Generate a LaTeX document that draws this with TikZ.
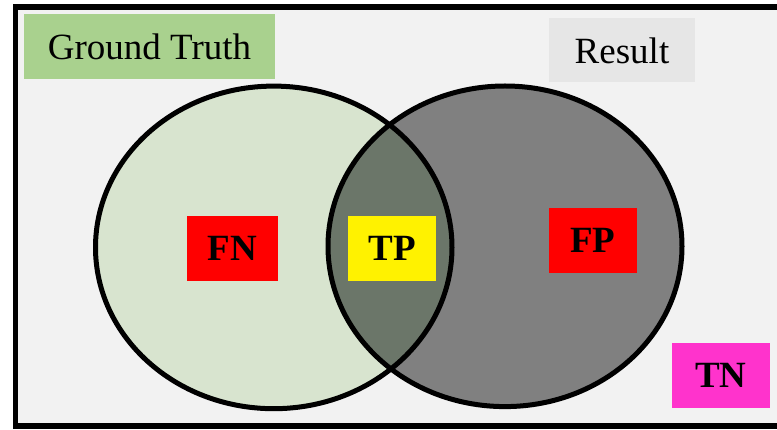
\documentclass[tikz,border=0pt]{standalone}
\usepackage{fontspec}
\setmainfont{Liberation Serif}
\definecolor{bgc}{RGB}{242,242,242}
\definecolor{gtfill}{RGB}{169,209,142}
\definecolor{resfill}{RGB}{230,230,230}
\definecolor{leftfill}{RGB}{216,228,207}
\definecolor{rightfill}{RGB}{128,128,128}
\definecolor{overfill}{RGB}{107,118,105}
\definecolor{tnfill}{RGB}{255,51,204}
\tikzset{
  lbl/.style={inner sep=0pt, minimum height=65pt, font=\fontsize{37}{40}\selectfont},
  cls/.style={inner sep=0pt, minimum height=65pt, font=\fontsize{37}{40}\selectfont\bfseries},
  ring/.style={draw=black, line width=5pt}
}
\begin{document}
\begin{tikzpicture}[x=1pt,y=-1pt]
\useasboundingbox (0,0) rectangle (777,430);
% frame
\filldraw[fill=bgc, draw=black, line width=5.5pt] (15.5,7) rectangle (790,426);
% ellipses
\fill[leftfill] (273.75,247.4) ellipse [x radius=178.25, y radius=161.3];
\fill[rightfill] (505,246.3) ellipse [x radius=177, y radius=160.3];
\begin{scope}
  \clip (273.75,247.4) ellipse [x radius=178.25, y radius=161.3];
  \fill[overfill] (505,246.3) ellipse [x radius=177, y radius=160.3];
\end{scope}
\draw[ring] (273.75,247.4) ellipse [x radius=178.25, y radius=161.3];
\draw[ring] (505,246.3) ellipse [x radius=177, y radius=160.3];
% labels
\node[lbl, fill=gtfill, minimum width=251pt] (gt) at (149.5,46.5) {Ground Truth};
\node[lbl, fill=resfill, minimum width=146pt, minimum height=64pt] (res) at (622,50.5) {Result};
\node[cls, fill=red, minimum width=91pt] (fn) at (232.3,248.2) {FN};
\node[cls, fill=yellow, minimum width=88pt] (tp) at (392.2,248.2) {TP};
\node[cls, fill=red, minimum width=88pt] (fp) at (592.8,240.2) {FP};
\node[cls, fill=tnfill, minimum width=98pt] (tn) at (720.8,375.2) {TN};
\end{tikzpicture}
\end{document}
